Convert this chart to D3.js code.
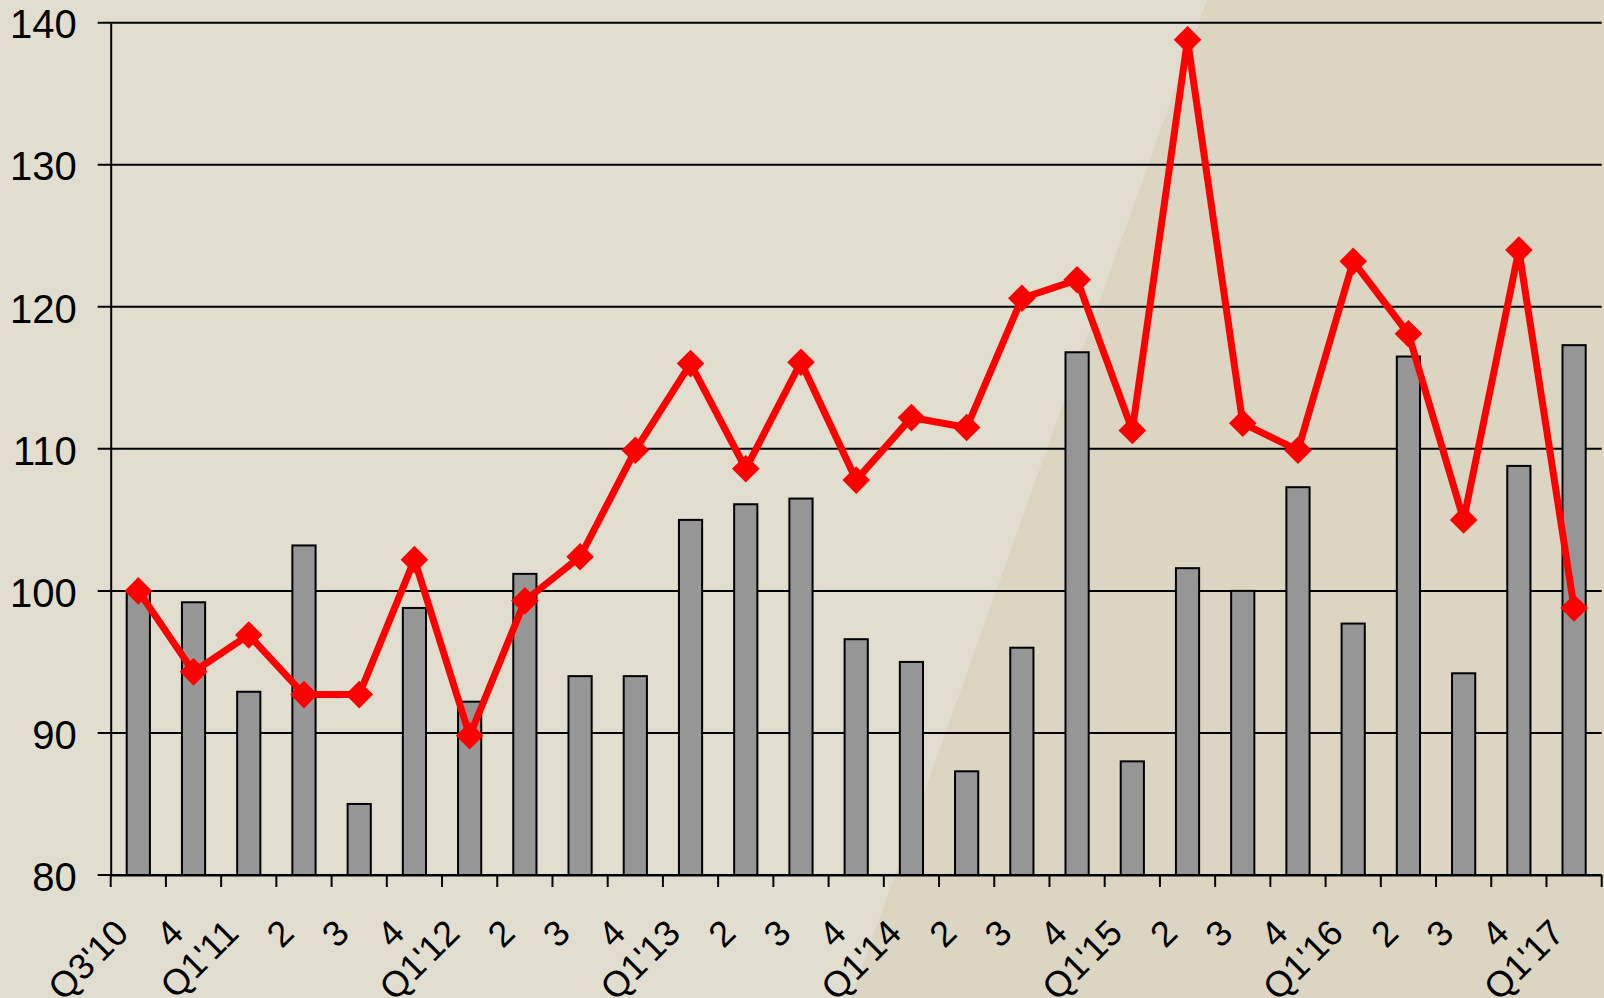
<!DOCTYPE html>
<html>
<head>
<meta charset="utf-8">
<script src="https://cdn.jsdelivr.net/npm/d3@7"></script>
<style>
  body { margin: 0; background: #e1decf; }
  text { font-family: "Liberation Sans", Arial, sans-serif; fill: #000; }
</style>
</head>
<body>
<div id="chart"></div>
<script>
//Data
var quarters = ["Q3'10", "4", "Q1'11", "2", "3", "4", "Q1'12", "2", "3", "4",
    "Q1'13", "2", "3", "4", "Q1'14", "2", "3", "4", "Q1'15", "2", "3", "4",
    "Q1'16", "2", "3", "4", "Q1'17"];
var barValues = [100, 99.2, 92.9, 103.2, 85.0, 98.8, 92.2, 101.2, 94.0, 94.0,
    105.0, 106.1, 106.5, 96.6, 95.0, 87.3, 96.0, 116.8, 88.0, 101.6, 100.0, 107.3,
    97.7, 116.5, 94.2, 108.8, 117.3];
var lineValues = [100, 94.3, 96.9, 92.7, 92.7, 102.2, 89.8, 99.3, 102.4, 109.9,
    116.0, 108.6, 116.1, 107.8, 112.2, 111.5, 120.6, 121.9, 111.3, 138.8, 111.8, 109.9,
    123.2, 118.1, 105.0, 124.0, 98.8];
var yTicks = [80, 90, 100, 110, 120, 130, 140];

//Chart set up
var svgWidth = 1604;
var svgHeight = 998;
var margin = { top: 22.7, right: 2.3, bottom: 123, left: 110.7 };
var width = svgWidth - margin.left - margin.right;
var height = svgHeight - margin.top - margin.bottom;

var svg = d3.select("#chart")
    .append("svg")
    .attr("width", svgWidth)
    .attr("height", svgHeight);

//background, darker wedge on the right
svg.append("rect")
    .attr("width", svgWidth)
    .attr("height", svgHeight)
    .attr("fill", "#e1decf");
svg.append("polygon")
    .attr("points", "1207,0 1604,0 1604,998 851,998")
    .attr("fill", "#dbd5c2");

var chartGroup = svg.append("g")
    .attr("transform", `translate(${margin.left}, ${margin.top})`);

//scales
var xScale = d3.scaleBand()
    .domain(d3.range(quarters.length))
    .range([0, width])
    .padding(0);

var yScale = d3.scaleLinear()
    .domain([80, 140])
    .range([height, 0]);

//grid lines
chartGroup.append("g")
    .selectAll("line")
    .data(yTicks)
    .enter()
    .append("line")
    .attr("x1", -13)
    .attr("x2", width)
    .attr("y1", d => yScale(d))
    .attr("y2", d => yScale(d))
    .attr("stroke", "#000")
    .attr("stroke-width", 2);

//y axis
var leftAxis = d3.axisLeft(yScale)
    .tickValues(yTicks)
    .tickSize(0)
    .tickPadding(34);

var yAxisGroup = chartGroup.append("g").call(leftAxis);
yAxisGroup.select(".domain")
    .attr("stroke", "#000")
    .attr("stroke-width", 2);
yAxisGroup.selectAll("text")
    .attr("font-size", 40)
    .attr("dy", "0.38em")
    .style("font-family", "'Liberation Sans', Arial, sans-serif");

//bars
var barW = xScale.bandwidth() * 0.42;
chartGroup.selectAll(".bar")
    .data(barValues)
    .enter()
    .append("rect")
    .attr("class", "bar")
    .attr("x", (d, i) => xScale(i) + xScale.bandwidth() / 2 - barW / 2)
    .attr("y", d => yScale(d))
    .attr("width", barW)
    .attr("height", d => height - yScale(d))
    .attr("fill", "#969696")
    .attr("stroke", "#000")
    .attr("stroke-width", 2);

//x axis with ticks between the quarters
var bottomAxis = d3.axisBottom(xScale)
    .tickSize(0)
    .tickFormat(i => quarters[i]);

var xAxisGroup = chartGroup.append("g")
    .attr("transform", `translate(0, ${height})`)
    .call(bottomAxis);
xAxisGroup.select(".domain")
    .attr("stroke", "#000")
    .attr("stroke-width", 2);
xAxisGroup.selectAll("text")
    .attr("x", 0)
    .attr("y", 0)
    .attr("dy", null)
    .attr("font-size", 36)
    .attr("transform", "translate(-8, 60) rotate(-45)")
    .style("text-anchor", "end")
    .style("font-family", "'Liberation Sans', Arial, sans-serif");

var edges = d3.range(quarters.length).map(i => xScale(i)).concat([width]);
xAxisGroup.selectAll(".edge")
    .data(edges)
    .enter()
    .append("line")
    .attr("class", "edge")
    .attr("x1", d => d)
    .attr("x2", d => d)
    .attr("y1", 0)
    .attr("y2", 12)
    .attr("stroke", "#000")
    .attr("stroke-width", 2);

//red line with diamond markers
var line = d3.line()
    .x((d, i) => xScale(i) + xScale.bandwidth() / 2)
    .y(d => yScale(d));

chartGroup.append("path")
    .datum(lineValues)
    .attr("d", line)
    .attr("fill", "none")
    .attr("stroke", "#ff0000")
    .attr("stroke-width", 7)
    .attr("stroke-linejoin", "miter");

chartGroup.selectAll(".marker")
    .data(lineValues)
    .enter()
    .append("path")
    .attr("class", "marker")
    .attr("d", d3.symbol().type(d3.symbolSquare).size(380))
    .attr("transform", (d, i) => `translate(${xScale(i) + xScale.bandwidth() / 2}, ${yScale(d)}) rotate(45)`)
    .attr("fill", "#ff0000");
</script>
</body>
</html>
